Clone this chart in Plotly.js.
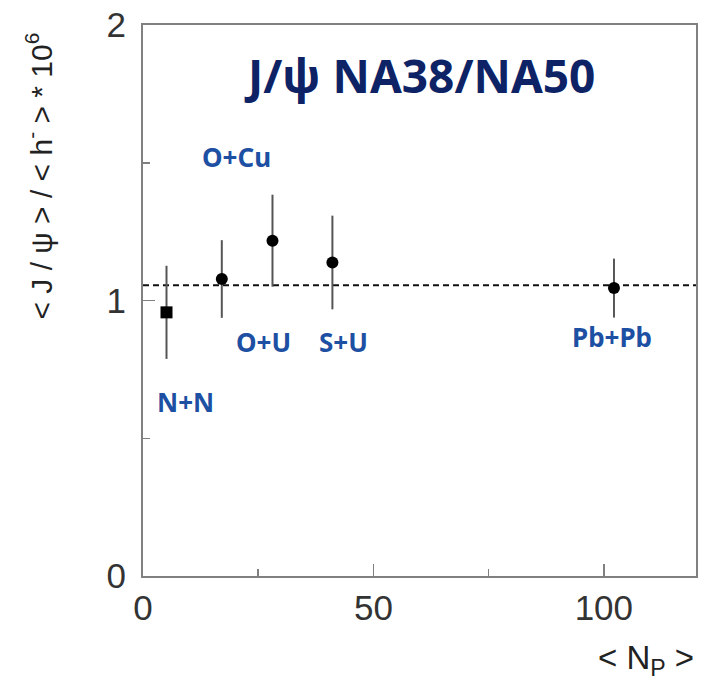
<!DOCTYPE html>
<html>
<head>
<meta charset="utf-8">
<script src="https://cdn.plot.ly/plotly-3.0.1.min.js"></script>
<style>html,body{margin:0;padding:0;background:#fff;}#chart{width:705px;height:686px;}</style>
</head>
<body>
<div id="chart"></div>
<script>
// ---- data ----
const systems   = ["N+N", "O+Cu", "O+U", "S+U", "Pb+Pb"];
const npart     = [5.1, 17.1, 28.1, 41.1, 102.2];
const ratio     = [0.957, 1.078, 1.217, 1.138, 1.045];
const ratioErr  = [0.169, 0.141, 0.167, 0.170, 0.107];
const meanRatio = 1.055;
const xTickVals = [0, 50, 100];
const xTickText = ["0", "50", "100"];
const yTickVals = [0, 1, 2];
const yTickText = ["0", "1", "2"];

const markerSymbols = systems.map(s => s === "N+N" ? "square" : "circle");

const traces = [
  {
    x: [0, 120],
    y: [meanRatio, meanRatio],
    mode: "lines",
    line: {color: "#111", width: 2, dash: "6px,4px"},
    hoverinfo: "skip",
    showlegend: false
  },
  {
    x: npart,
    y: ratio,
    text: systems,
    mode: "markers",
    marker: {symbol: markerSymbols, size: 12, color: "#000"},
    error_y: {type: "data", array: ratioErr, visible: true, color: "#555", thickness: 2, width: 0},
    showlegend: false
  }
];

const tickFont = {family: "Liberation Sans, Arial, sans-serif", size: 35, color: "#333"};
const labelFont = {family: "Noto Sans, sans-serif", size: 26, color: "#1d4fa3", weight: 700};

const layout = {
  width: 705, height: 686,
  margin: {l: 143, r: 9, t: 25, b: 110},
  paper_bgcolor: "#fff", plot_bgcolor: "#fff",
  showlegend: false,
  xaxis: {
    range: [0, 120], showgrid: false, zeroline: false,
    showline: true, mirror: true, linecolor: "#808080", linewidth: 2,
    tickmode: "array", tickvals: xTickVals, ticktext: xTickText,
    ticks: "inside", ticklen: 12, tickwidth: 1.5, tickcolor: "#808080",
    minor: {tickvals: [25, 75], ticks: "inside", ticklen: 7, tickwidth: 1.5, tickcolor: "#808080"},
    tickfont: tickFont
  },
  yaxis: {
    range: [0, 2], showgrid: false, zeroline: false,
    showline: true, mirror: true, linecolor: "#808080", linewidth: 2,
    tickmode: "array", tickvals: yTickVals, ticktext: yTickText,
    ticks: "inside", ticklen: 12, tickwidth: 1.5, tickcolor: "#808080",
    minor: {tickvals: [0.5, 1.5], ticks: "inside", ticklen: 7, tickwidth: 1.5, tickcolor: "#808080"},
    tickfont: tickFont, ticklabelstandoff: 8
  },
  annotations: [
    {text: "J/ψ NA38/NA50", xref: "paper", yref: "paper", x: 0.5, y: 0.909, xanchor: "center", yanchor: "middle",
     showarrow: false, font: {family: "Noto Sans, sans-serif", size: 46, color: "#0d2366", weight: 700}},
    {text: "&lt; J / ψ &gt; / &lt; h<sup>-</sup> &gt; * 10<sup>6</sup>", xref: "paper", yref: "paper",
     x: 0, xshift: -104, y: 0.725, xanchor: "center", yanchor: "middle", textangle: -90, showarrow: false,
     font: {family: "Liberation Sans, Arial, sans-serif", size: 30, color: "#222"}},
    {text: "&lt; N<sub>P</sub> &gt;", xref: "paper", yref: "paper", x: 1, xanchor: "right", y: 0, yanchor: "middle", yshift: -84,
     showarrow: false, font: {family: "Liberation Sans, Arial, sans-serif", size: 33, color: "#222"}},
    {text: "O+Cu", x: 20.3, y: 1.52, showarrow: false, font: labelFont},
    {text: "O+U", x: 26.2, y: 0.85, showarrow: false, font: labelFont},
    {text: "S+U", x: 43.6, y: 0.85, showarrow: false, font: labelFont},
    {text: "N+N", x: 9.3, y: 0.63, showarrow: false, font: labelFont},
    {text: "Pb+Pb", x: 101.7, y: 0.867, showarrow: false, font: labelFont}
  ]
};

Plotly.newPlot("chart", traces, layout, {displayModeBar: false, staticPlot: true});
</script>
</body>
</html>
